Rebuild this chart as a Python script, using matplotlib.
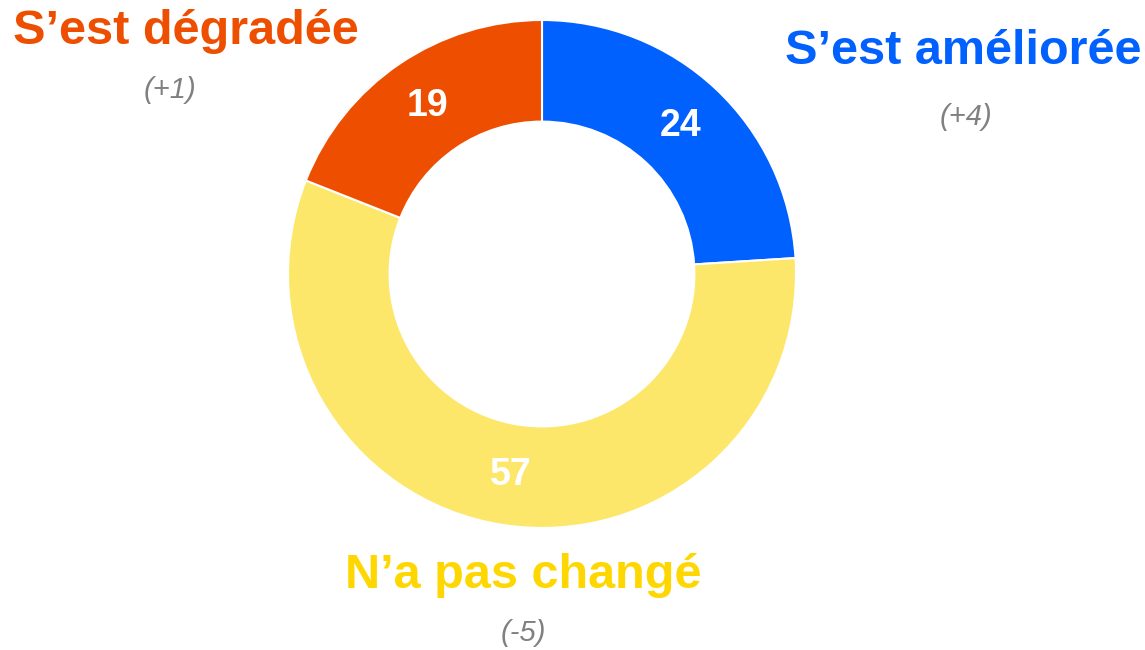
import matplotlib.pyplot as plt

plt.rcParams['font.family'] = ['Liberation Sans', 'DejaVu Sans']

categories = ['S\u2019est améliorée', 'N\u2019a pas changé', 'S\u2019est dégradée']
values = [24, 57, 19]
changes = ['(+4)', '(-5)', '(+1)']
colors = ['#0061FE', '#FDE76B', '#EE4E00']
text_colors = ['#0061FE', '#FFD700', '#EE4E00']

W, H = 1145, 650
fig = plt.figure(figsize=(W / 100, H / 100), dpi=100)
ax = fig.add_axes([0, 0, 1, 1])
ax.set_xlim(0, W)
ax.set_ylim(0, H)
ax.set_aspect('equal')
ax.axis('off')

cx, cy, r = 542, H - 274, 254

wedges, _, autotexts = ax.pie(
    values, colors=colors, startangle=90, counterclock=False,
    center=(cx, cy), radius=r, autopct=lambda p: '%d' % round(p),
    pctdistance=0.8, wedgeprops=dict(width=r * 0.4, edgecolor='white', linewidth=1.5),
    frame=True)
for t in autotexts:
    t.set_color('white')
    t.set_fontsize(27)
    t.set_fontweight('bold')

ax.set_xlim(0, W)
ax.set_ylim(0, H)
ax.axis('off')

# category labels and evolution
label_pos = [(963, 52), (523, 575), (186, 31)]
change_pos = [(966, 117), (523, 633), (170, 90)]
for cat, chg, col, (lx, ly), (px, py) in zip(categories, changes, text_colors, label_pos, change_pos):
    ax.text(lx, H - ly, cat, color=col, fontsize=35, fontweight='bold',
            ha='center', va='center')
    ax.text(px, H - py, chg, color='#808080', fontsize=21, style='italic',
            ha='center', va='center')

fig.savefig('out.png', dpi=100)
